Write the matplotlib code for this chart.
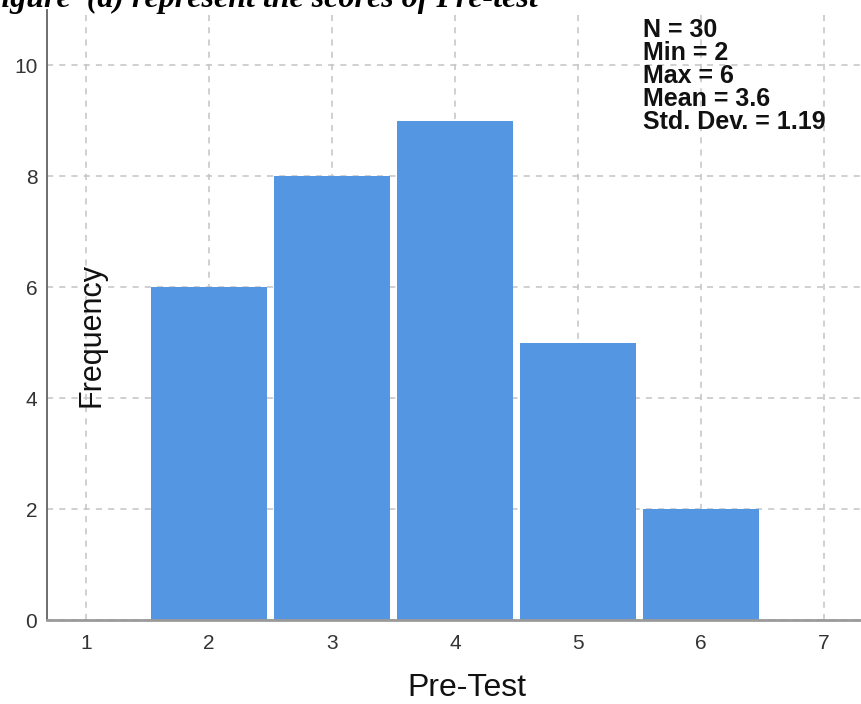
import numpy as np
import matplotlib
matplotlib.use("Agg")
import matplotlib.pyplot as plt

# ---- data ----
scores = [1, 2, 3, 4, 5, 6, 7]
frequency = [0, 6, 8, 9, 5, 2, 0]
y_ticks = [0, 2, 4, 6, 8, 10]
title_text = "Figure  (a) represent the scores of Pre-test"
x_label = "Pre-Test"
y_label = "Frequency"

vals = np.repeat(scores, frequency)
n = len(vals)
stats_lines = [
    f"N = {n}",
    f"Min = {vals.min()}",
    f"Max = {vals.max()}",
    f"Mean = {vals.mean():.1f}",
    f"Std. Dev. = {vals.std(ddof=1):.2f}",
]

W, H = 862, 704
fig = plt.figure(figsize=(W / 100, H / 100), dpi=100)
fig.patch.set_facecolor("white")

def px(x, y):
    return x / W, 1 - y / H

left, right, top, bottom = 47, 862, 10, 620
ax = fig.add_axes([left / W, 1 - bottom / H, (right - left) / W, (bottom - top) / H])

bar_color = "#5596e3"
heights = np.array(frequency)
ax.bar(scores, heights, width=0.95, color=bar_color, edgecolor="none", zorder=2)

ax.set_xlim(1 - 39 / 123, 7 + 38 / 123)
ax.set_ylim(0, 11)
ax.set_xticks(scores)
ax.set_yticks(y_ticks)

ax.grid(True, color="#c4c4c4", linestyle=(0, (4, 4)), linewidth=1.1, zorder=1)
ax.set_axisbelow(True)

for s in ["top", "right"]:
    ax.spines[s].set_visible(False)
ax.spines["left"].set_color("#6e6e6e")
ax.spines["left"].set_linewidth(1.4)
ax.spines["bottom"].set_color("#9a9a9a")
ax.spines["bottom"].set_linewidth(2.0)
ax.spines["bottom"].set_zorder(3)

ax.tick_params(axis="both", length=0, labelsize=15, labelcolor="#333333")
ax.tick_params(axis="x", pad=10)
ax.tick_params(axis="y", pad=7)
for lab in ax.get_xticklabels() + ax.get_yticklabels():
    lab.set_fontfamily("Liberation Sans")

fig.text(*px(92, 335), y_label, rotation=90, ha="center", va="center",
         fontsize=22, family="Liberation Sans", color="#111111")
fig.text(*px(467, 688), x_label, ha="center", va="center",
         fontsize=23, family="Liberation Sans", color="#111111")

y0 = 37
for i, line in enumerate(stats_lines):
    fig.text(*px(643, y0 + i * 23), line, ha="left", va="baseline",
             fontsize=18, fontweight="bold", family="Liberation Sans", color="#111111")

fig.text(*px(-20, 7), title_text, ha="left", va="baseline", fontsize=23,
         fontweight="bold", fontstyle="italic", family="Liberation Serif", color="black")

fig.savefig("out.png", dpi=100)
